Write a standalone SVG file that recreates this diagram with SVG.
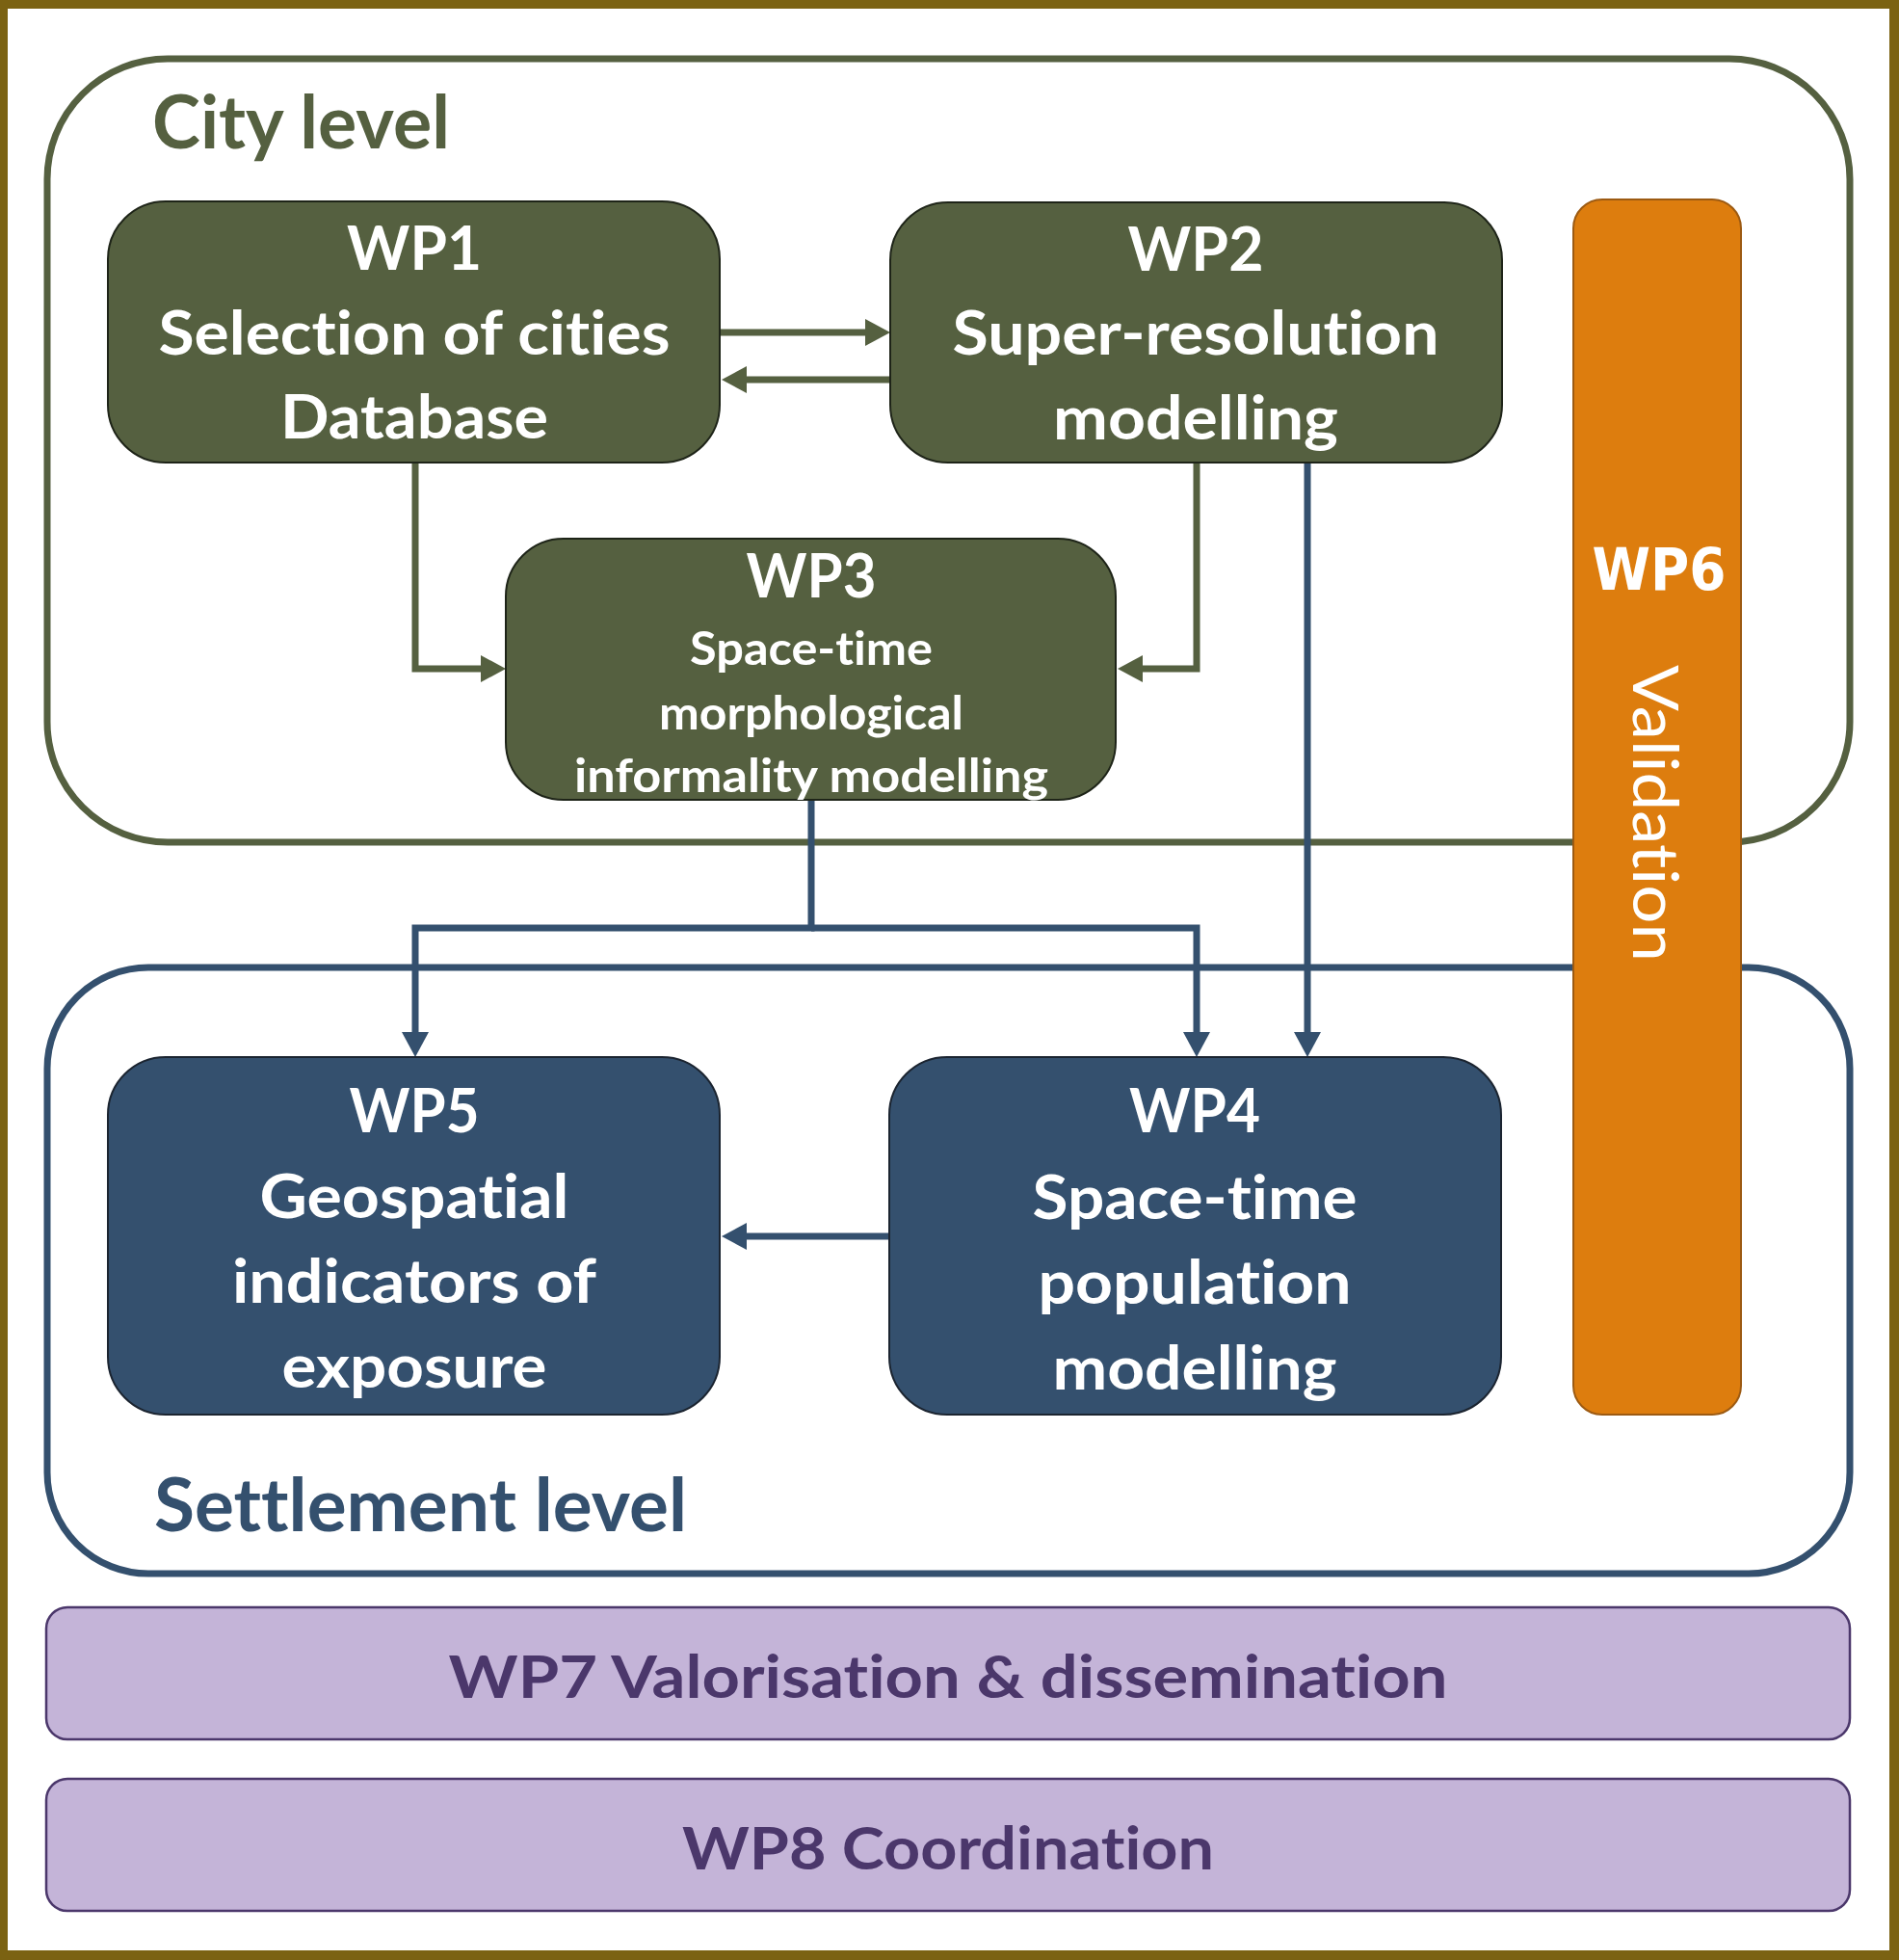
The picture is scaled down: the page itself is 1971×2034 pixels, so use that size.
<svg xmlns="http://www.w3.org/2000/svg" width="1971" height="2034" viewBox="0 0 1971 2034">
<style>
text{font-variant-ligatures:none;font-feature-settings:"liga" 0,"dlig" 0}
.frame{fill:#7B6212}
.bg{fill:#FFFFFF}
.cont{fill:none;stroke-width:7}
.olive{stroke:#556040}
.blue{stroke:#34506E}
.conn{fill:none;stroke-width:7}
.boxg{fill:#556040;stroke:#1e2418;stroke-width:2}
.boxb{fill:#34506E;stroke:#1b2430;stroke-width:2}
.wt{font-family:Lato,'Open Sans','Liberation Sans',sans-serif;font-weight:bold;fill:#FFFFFF;text-anchor:middle}
.big{font-size:63px}
.sub{font-size:47px}
.lvl{font-family:Lato,'Open Sans','Liberation Sans',sans-serif;font-weight:bold;font-size:76px}
.purple{fill:#C4B4D8;stroke:#4B376B;stroke-width:2.5}
.pt{font-family:Lato,'Open Sans','Liberation Sans',sans-serif;font-weight:bold;font-size:62px;fill:#4B376B;text-anchor:middle}
</style>
<defs>
<marker id="ahG" viewBox="0 0 26 28" refX="0" refY="14" markerWidth="26" markerHeight="28" markerUnits="userSpaceOnUse" orient="auto"><path d="M0,0 L26,14 L0,28 Z" fill="#556040"/></marker>
<marker id="ahB" viewBox="0 0 26 28" refX="0" refY="14" markerWidth="26" markerHeight="28" markerUnits="userSpaceOnUse" orient="auto"><path d="M0,0 L26,14 L0,28 Z" fill="#34506E"/></marker>
</defs>
<rect class="frame" x="0" y="0" width="1971" height="2034"/>
<rect class="bg" x="8" y="9" width="1953" height="2015"/>

<g id="city-level">
<rect class="cont olive" x="49" y="61" width="1871" height="813" rx="125" ry="125"/>
<text class="lvl" x="158" y="154" fill="#556040" textLength="309" lengthAdjust="spacingAndGlyphs">City level</text>
</g>
<g id="settlement-level">
<rect class="cont blue" x="49" y="1004" width="1871" height="629" rx="105" ry="105"/>
<text class="lvl" x="160" y="1589" fill="#34506E" textLength="553" lengthAdjust="spacingAndGlyphs">Settlement level</text>
</g>

<g id="connectors">
<path class="conn olive" d="M747,345 H898" marker-end="url(#ahG)"/>
<path class="conn olive" d="M924,394 H775" marker-end="url(#ahG)"/>
<path class="conn olive" d="M431,480 V694 H499" marker-end="url(#ahG)"/>
<path class="conn olive" d="M1242,480 V694 H1186" marker-end="url(#ahG)"/>
<path class="conn blue" d="M842,830 V963 H431 V1071" marker-end="url(#ahB)"/>
<path class="conn blue" d="M842,963 H1242 V1071" marker-end="url(#ahB)"/>
<path class="conn blue" d="M1357,480 V1071" marker-end="url(#ahB)"/>
<path class="conn blue" d="M923,1283 H775" marker-end="url(#ahB)"/>
</g>

<g id="wp1">
<rect class="boxg" x="112" y="209" width="635" height="271" rx="60" ry="60"/>
<text class="wt big" x="430" y="280" textLength="140" lengthAdjust="spacingAndGlyphs">WP1</text>
<text class="wt big" x="430" y="368" textLength="531" lengthAdjust="spacingAndGlyphs">Selection of cities</text>
<text class="wt big" x="430" y="455" textLength="278" lengthAdjust="spacingAndGlyphs">Database</text>
</g>
<g id="wp2">
<rect class="boxg" x="924" y="210" width="635" height="270" rx="60" ry="60"/>
<text class="wt big" x="1241" y="281" textLength="141" lengthAdjust="spacingAndGlyphs">WP2</text>
<text class="wt big" x="1241" y="368" textLength="505" lengthAdjust="spacingAndGlyphs">Super-resolution</text>
<text class="wt big" x="1241" y="456" textLength="296" lengthAdjust="spacingAndGlyphs">modelling</text>
</g>
<g id="wp3">
<rect class="boxg" x="525" y="559" width="633" height="271" rx="60" ry="60"/>
<text class="wt big" x="842" y="620" textLength="135" lengthAdjust="spacingAndGlyphs">WP3</text>
<text class="wt sub" x="842" y="690" textLength="252" lengthAdjust="spacingAndGlyphs">Space-time</text>
<text class="wt sub" x="842" y="757" textLength="316" lengthAdjust="spacingAndGlyphs">morphological</text>
<text class="wt sub" x="842" y="822" textLength="492" lengthAdjust="spacingAndGlyphs">informality modelling</text>
</g>
<g id="wp4">
<rect class="boxb" x="923" y="1097" width="635" height="371" rx="60" ry="60"/>
<text class="wt big" x="1240" y="1175" textLength="136" lengthAdjust="spacingAndGlyphs">WP4</text>
<text class="wt big" x="1240" y="1265" textLength="337" lengthAdjust="spacingAndGlyphs">Space-time</text>
<text class="wt big" x="1240" y="1353" textLength="325" lengthAdjust="spacingAndGlyphs">population</text>
<text class="wt big" x="1240" y="1442" textLength="295" lengthAdjust="spacingAndGlyphs">modelling</text>
</g>
<g id="wp5">
<rect class="boxb" x="112" y="1097" width="635" height="371" rx="60" ry="60"/>
<text class="wt big" x="430" y="1175" textLength="135" lengthAdjust="spacingAndGlyphs">WP5</text>
<text class="wt big" x="430" y="1264" textLength="321" lengthAdjust="spacingAndGlyphs">Geospatial</text>
<text class="wt big" x="430" y="1352" textLength="378" lengthAdjust="spacingAndGlyphs">indicators of</text>
<text class="wt big" x="430" y="1440" textLength="275" lengthAdjust="spacingAndGlyphs">exposure</text>
</g>
<g id="wp6">
<rect x="1633" y="207" width="174" height="1261" rx="30" ry="30" fill="#DD7D0E" stroke="#9C5A12" stroke-width="2"/>
<text x="1722" y="612" font-family="'DejaVu Sans',Verdana,sans-serif" font-weight="bold" font-size="60" fill="#FFFFFF" text-anchor="middle" textLength="139" lengthAdjust="spacingAndGlyphs">WP6</text>
<text transform="translate(1695,844) rotate(90)" x="0" y="0" font-family="Lato,'Open Sans',sans-serif" font-size="65" fill="#FFFFFF" text-anchor="middle" textLength="308" lengthAdjust="spacingAndGlyphs">Validation</text>
</g>
<g id="wp7">
<rect class="purple" x="48" y="1668" width="1872" height="137" rx="22" ry="22"/>
<text class="pt" x="984" y="1762" textLength="1037" lengthAdjust="spacingAndGlyphs">WP7 Valorisation &amp; dissemination</text>
</g>
<g id="wp8">
<rect class="purple" x="48" y="1846" width="1872" height="137" rx="22" ry="22"/>
<text class="pt" x="984" y="1940" textLength="552" lengthAdjust="spacingAndGlyphs">WP8 Coordination</text>
</g>
</svg>
